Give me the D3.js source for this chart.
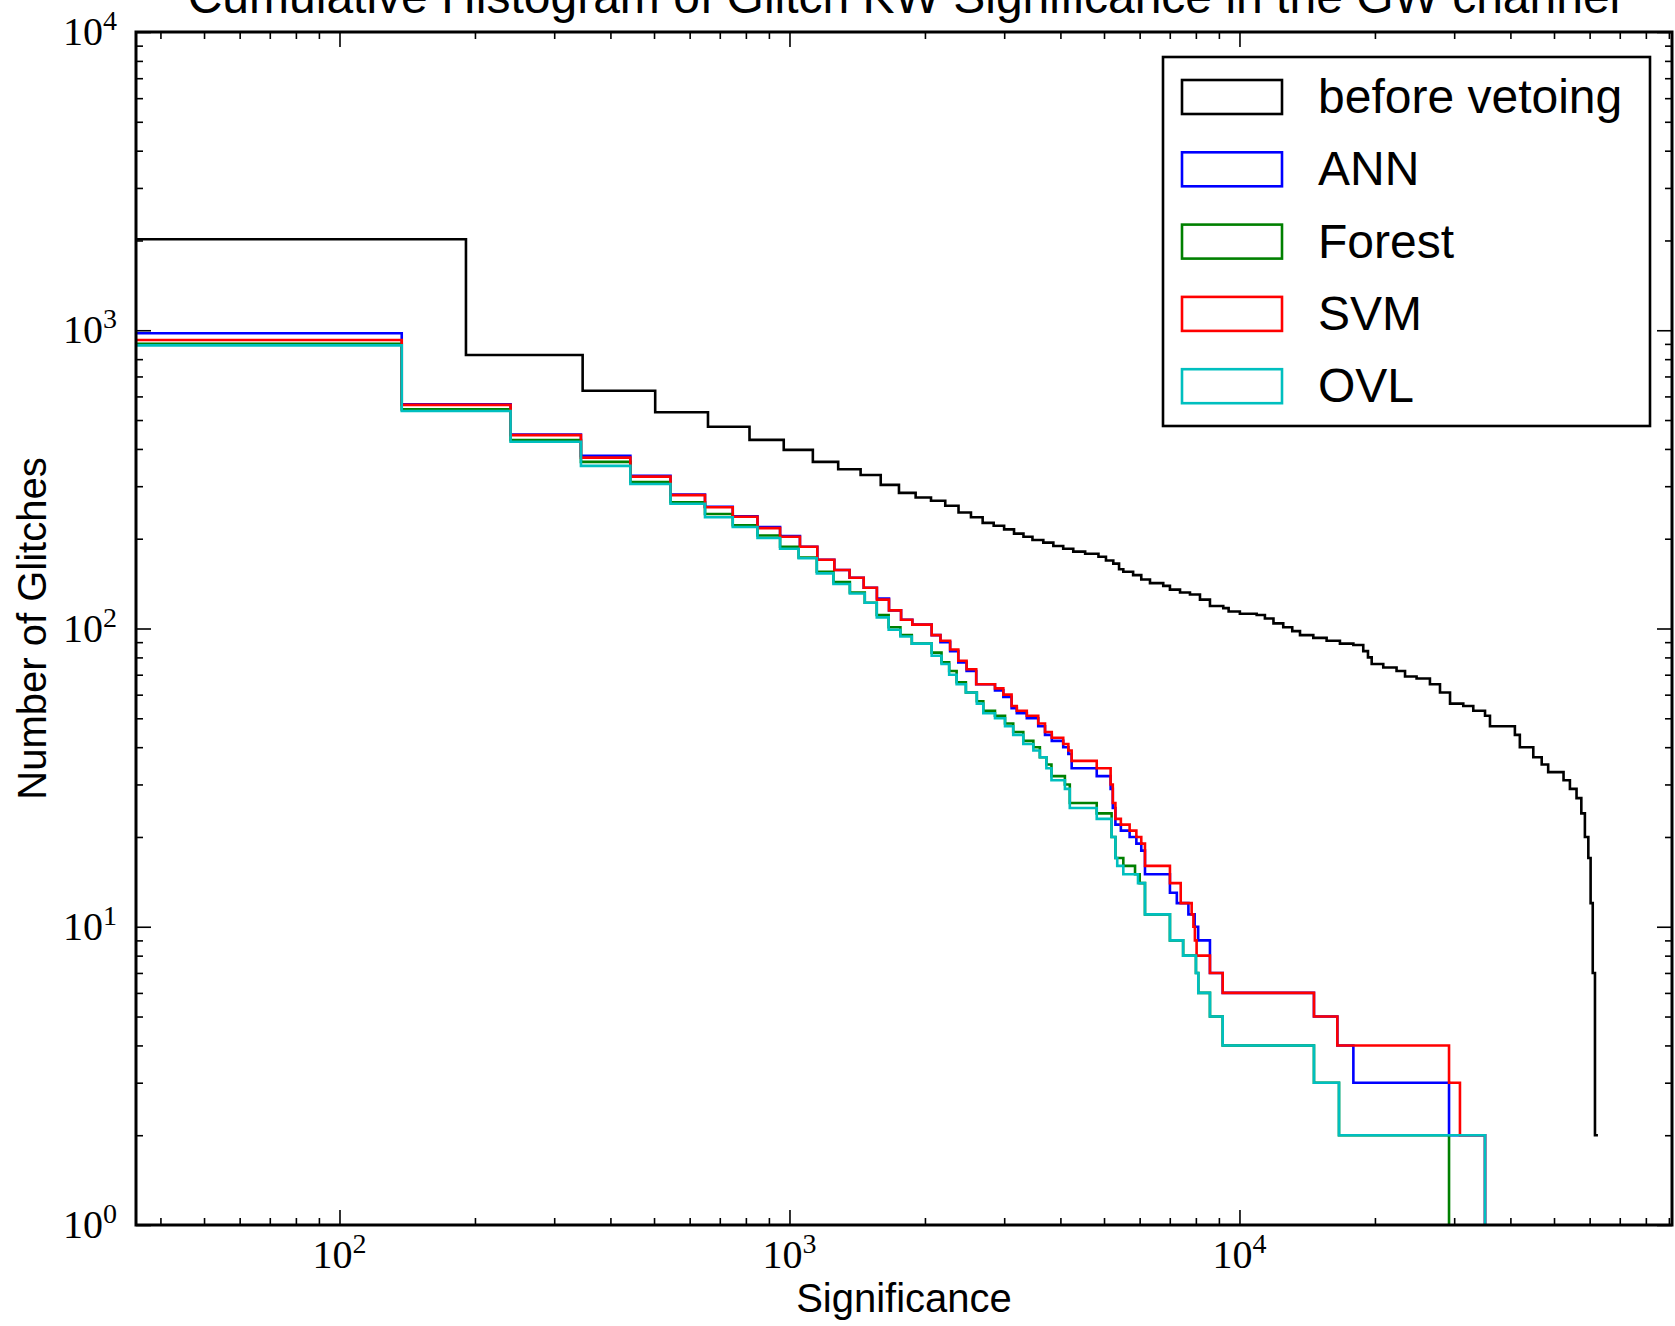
<!DOCTYPE html>
<html>
<head>
<meta charset="utf-8">
<script src="https://cdn.jsdelivr.net/npm/d3@7"></script>
<style>
  body { margin: 0; background: #fff; }
  svg { display: block; }
</style>
</head>
<body>
<svg id="chart" width="1675" height="1326"></svg>
<script>
// Reverse-cumulative glitch counts: each entry is [significance, count],
// the count holding from that significance up to the next entry.
const beforeVetoing = [
  [35.3, 2020], [191, 826], [347, 627], [503, 531], [659, 475], [815, 429], [971, 397],
  [1127, 362], [1283, 342], [1439, 327], [1595, 303], [1751, 285], [1907, 275], [2063, 268],
  [2219, 258], [2375, 245], [2531, 236], [2687, 226], [2843, 221], [2999, 215], [3155, 208],
  [3311, 203], [3467, 198], [3665, 194], [3858, 189], [4058, 185], [4272, 181], [4540, 178],
  [4860, 174], [5050, 169], [5243, 165], [5400, 158], [5519, 155], [5803, 151], [6050, 146],
  [6326, 142], [6770, 139], [7006, 135], [7377, 132], [7762, 130], [8170, 125], [8598, 119],
  [9204, 117], [9460, 114], [10020, 112], [10920, 111], [11390, 108], [11900, 104], [12510, 101],
  [13100, 98], [13630, 95], [14590, 93], [15620, 91], [16720, 89], [17910, 88], [18840, 84],
  [19300, 80], [19670, 76], [20870, 74], [22340, 72], [23330, 69], [24750, 68], [26500, 65],
  [27900, 61], [29370, 56], [31430, 55], [33080, 53], [35130, 51], [36030, 47], [40930, 44],
  [41980, 40], [44970, 37], [46950, 35], [48530, 33], [52500, 31], [54240, 29], [56110, 27],
  [57500, 24], [58560, 20], [59600, 17], [60300, 12], [60960, 7], [61660, 2], [62600, 2]
];

const annSteps = [
  [35.3, 977], [137.5, 565], [240, 447], [344, 379], [443, 325], [544, 281], [649, 256],
  [748, 238], [849, 219], [953, 204], [1055, 188], [1153, 170], [1258, 157], [1360, 148],
  [1462, 137], [1564, 126], [1664, 115], [1770, 107], [1875, 103], [2070, 95], [2165, 90],
  [2275, 84], [2372, 77], [2475, 72], [2600, 65], [2862, 62], [2987, 59], [3116, 54],
  [3200, 52], [3368, 50], [3571, 47], [3697, 44], [3827, 42], [4058, 40], [4166, 38],
  [4237, 34], [4817, 32], [5172, 29], [5230, 25], [5300, 22], [5450, 21], [5700, 20],
  [5900, 19], [6050, 18], [6166, 15], [7006, 13], [7257, 12], [7700, 11], [7950, 10],
  [8095, 9], [8598, 7], [9177, 6], [14640, 5], [16500, 4], [17910, 3], [29220, 2], [35130, 0]
];

const forestSteps = [
  [35.3, 900], [137.5, 543], [240, 428], [344, 362], [443, 310], [544, 265], [649, 242],
  [748, 222], [849, 205], [953, 188], [1048, 173], [1150, 155], [1252, 143], [1362, 132],
  [1470, 122], [1563, 111], [1661, 101], [1764, 95], [1870, 89], [2070, 83], [2177, 77],
  [2264, 72], [2352, 66], [2466, 61], [2608, 57], [2696, 53], [2862, 51], [3013, 48],
  [3142, 45], [3308, 42], [3483, 40], [3601, 37], [3723, 35], [3821, 32], [4093, 30],
  [4197, 26], [4817, 24], [5198, 20], [5300, 17], [5519, 16], [5860, 15], [6000, 14],
  [6166, 11], [7006, 9], [7495, 8], [8003, 7], [8100, 6], [8598, 5], [9177, 4],
  [14640, 3], [16640, 2], [29220, 0]
];

const svmSteps = [
  [35.3, 927], [137.5, 562], [240, 445], [344, 374], [443, 323], [544, 280], [649, 255],
  [748, 237], [849, 217], [953, 203], [1055, 188], [1153, 170], [1258, 157], [1360, 148],
  [1462, 137], [1564, 125], [1664, 115], [1770, 107], [1875, 103], [2070, 95], [2165, 91],
  [2275, 85], [2372, 78], [2475, 73], [2600, 65], [2862, 63], [2987, 60], [3116, 55],
  [3200, 53], [3368, 51], [3571, 48], [3697, 45], [3827, 43], [4058, 41], [4166, 39],
  [4237, 36], [4817, 34], [5172, 30], [5230, 26], [5300, 23], [5450, 22], [5700, 21],
  [5900, 20], [6050, 19], [6166, 16], [7006, 14], [7403, 12], [7830, 11], [7900, 10],
  [7960, 9], [8030, 8], [8598, 7], [9177, 6], [14640, 5], [16500, 4], [29220, 3],
  [30900, 2], [35130, 0]
];

const ovlSteps = [
  [35.3, 890], [137.5, 536], [240, 423], [344, 351], [443, 305], [544, 262], [649, 236],
  [748, 219], [849, 201], [953, 185], [1048, 172], [1150, 153], [1252, 141], [1362, 131],
  [1470, 122], [1563, 109], [1661, 99], [1764, 94], [1870, 89], [2070, 81], [2177, 76],
  [2264, 70], [2352, 65], [2466, 61], [2608, 56], [2696, 52], [2862, 50], [3013, 47],
  [3142, 44], [3308, 41], [3483, 39], [3601, 37], [3723, 34], [3821, 31], [4093, 29],
  [4197, 25], [4817, 23], [5198, 20], [5300, 17], [5350, 16], [5519, 15], [5950, 14],
  [6166, 11], [7006, 9], [7495, 8], [8003, 7], [8100, 6], [8598, 5], [9177, 4],
  [14640, 3], [16640, 2], [35130, 0]
];

const seriesNames = ["before vetoing", "ANN", "Forest", "SVM", "OVL"];
const seriesColors = ["#000000", "#0000ff", "#008000", "#ff0000", "#00bfbf"];
const seriesData = [beforeVetoing, annSteps, forestSteps, svmSteps, ovlSteps];

const xDomain = [35.3, 91450];
const yDomain = [1, 10000];
const xMajorTicks = [100, 1000, 10000];
const xMajorExponents = ["2", "3", "4"];
const yMajorTicks = [1, 10, 100, 1000, 10000];
const yMajorExponents = ["0", "1", "2", "3", "4"];

const titleText = "Cumulative Histogram of Glitch KW Significance in the GW channel";
const xLabelText = "Significance";
const yLabelText = "Number of Glitches";

// ---- layout ----
const plot = { left: 136, right: 1672, top: 32, bottom: 1225 };
const sans = "'Liberation Sans', Arial, Helvetica, sans-serif";
const serif = "'Liberation Serif', 'DejaVu Serif', serif";

const svg = d3.select("#chart");

const x = d3.scaleLog().domain(xDomain).range([plot.left, plot.right]);
const y = d3.scaleLog().domain(yDomain).range([plot.bottom, plot.top]);

function minorTicks(domain, majors) {
  const out = [];
  const lo = Math.floor(Math.log10(domain[0]));
  const hi = Math.ceil(Math.log10(domain[1]));
  for (let e = lo; e <= hi; e++) {
    for (let k = 2; k <= 9; k++) {
      const v = k * Math.pow(10, e);
      if (v >= domain[0] && v <= domain[1] && !majors.includes(v)) out.push(v);
    }
  }
  return out;
}
const xMinor = minorTicks(xDomain, xMajorTicks);
const yMinor = minorTicks(yDomain, yMajorTicks);

// ---- tick marks on all four sides, pointing inward ----
function drawTicks(axisFn, scale, values, size, transform) {
  const g = svg.append("g")
    .attr("transform", transform)
    .call(axisFn(scale).tickValues(values).tickSize(-size).tickFormat(""));
  g.select(".domain").remove();
  g.selectAll(".tick line").attr("stroke", "#000").attr("stroke-width", 1.6);
}
const majorLen = 15, minorLen = 7;
drawTicks(d3.axisBottom, x, xMajorTicks, majorLen, `translate(0,${plot.bottom})`);
drawTicks(d3.axisBottom, x, xMinor, minorLen, `translate(0,${plot.bottom})`);
drawTicks(d3.axisTop, x, xMajorTicks, majorLen, `translate(0,${plot.top})`);
drawTicks(d3.axisTop, x, xMinor, minorLen, `translate(0,${plot.top})`);
drawTicks(d3.axisLeft, y, yMajorTicks, majorLen, `translate(${plot.left},0)`);
drawTicks(d3.axisLeft, y, yMinor, minorLen, `translate(${plot.left},0)`);
drawTicks(d3.axisRight, y, yMajorTicks, majorLen, `translate(${plot.right},0)`);
drawTicks(d3.axisRight, y, yMinor, minorLen, `translate(${plot.right},0)`);

// ---- step lines ----
svg.append("clipPath").attr("id", "plot-clip")
  .append("rect")
  .attr("x", plot.left).attr("y", plot.top)
  .attr("width", plot.right - plot.left).attr("height", plot.bottom - plot.top);

const stepLine = d3.line()
  .x(d => x(d[0]))
  .y(d => d[1] > 0 ? y(d[1]) : y.range()[0])
  .curve(d3.curveStepAfter);

const lines = svg.append("g").attr("clip-path", "url(#plot-clip)");
seriesData.forEach((data, i) => {
  lines.append("path")
    .datum(data)
    .attr("d", stepLine)
    .attr("fill", "none")
    .attr("stroke", seriesColors[i])
    .attr("stroke-width", 2.6);
});

// ---- frame ----
svg.append("rect")
  .attr("x", plot.left).attr("y", plot.top)
  .attr("width", plot.right - plot.left).attr("height", plot.bottom - plot.top)
  .attr("fill", "none").attr("stroke", "#000").attr("stroke-width", 3);

// ---- tick labels (10 with superscript exponent) ----
function powerLabel(sel, exp) {
  sel.append("tspan").text("10");
  sel.append("tspan").attr("font-size", 28).attr("dy", -15).text(exp);
}
xMajorTicks.forEach((v, i) => {
  svg.append("text")
    .attr("x", x(v)).attr("y", plot.bottom + 43)
    .attr("text-anchor", "middle")
    .attr("font-family", serif).attr("font-size", 40)
    .call(powerLabel, xMajorExponents[i]);
});
yMajorTicks.forEach((v, i) => {
  svg.append("text")
    .attr("x", plot.left - 19).attr("y", y(v) + 13)
    .attr("text-anchor", "end")
    .attr("font-family", serif).attr("font-size", 40)
    .call(powerLabel, yMajorExponents[i]);
});

// ---- axis titles and chart title ----
svg.append("text")
  .attr("x", (plot.left + plot.right) / 2).attr("y", 1312)
  .attr("text-anchor", "middle")
  .attr("font-family", sans).attr("font-size", 40)
  .text(xLabelText);

svg.append("text")
  .attr("transform", `translate(46,${(plot.top + plot.bottom) / 2}) rotate(-90)`)
  .attr("text-anchor", "middle")
  .attr("font-family", sans).attr("font-size", 40)
  .text(yLabelText);

svg.append("text")
  .attr("x", (plot.left + plot.right) / 2).attr("y", 13)
  .attr("text-anchor", "middle")
  .attr("font-family", sans).attr("font-size", 48)
  .text(titleText);

// ---- legend ----
const legend = svg.append("g");
legend.append("rect")
  .attr("x", 1163).attr("y", 57).attr("width", 487).attr("height", 369)
  .attr("fill", "#fff").attr("stroke", "#000").attr("stroke-width", 2.6);

seriesNames.forEach((name, i) => {
  const cy = 97 + i * 72.3;
  legend.append("rect")
    .attr("x", 1182).attr("y", cy - 17).attr("width", 100).attr("height", 34)
    .attr("fill", "none").attr("stroke", seriesColors[i]).attr("stroke-width", 2.6);
  legend.append("text")
    .attr("x", 1318).attr("y", cy + 16)
    .attr("font-family", sans).attr("font-size", 48)
    .text(name);
});
</script>
</body>
</html>
